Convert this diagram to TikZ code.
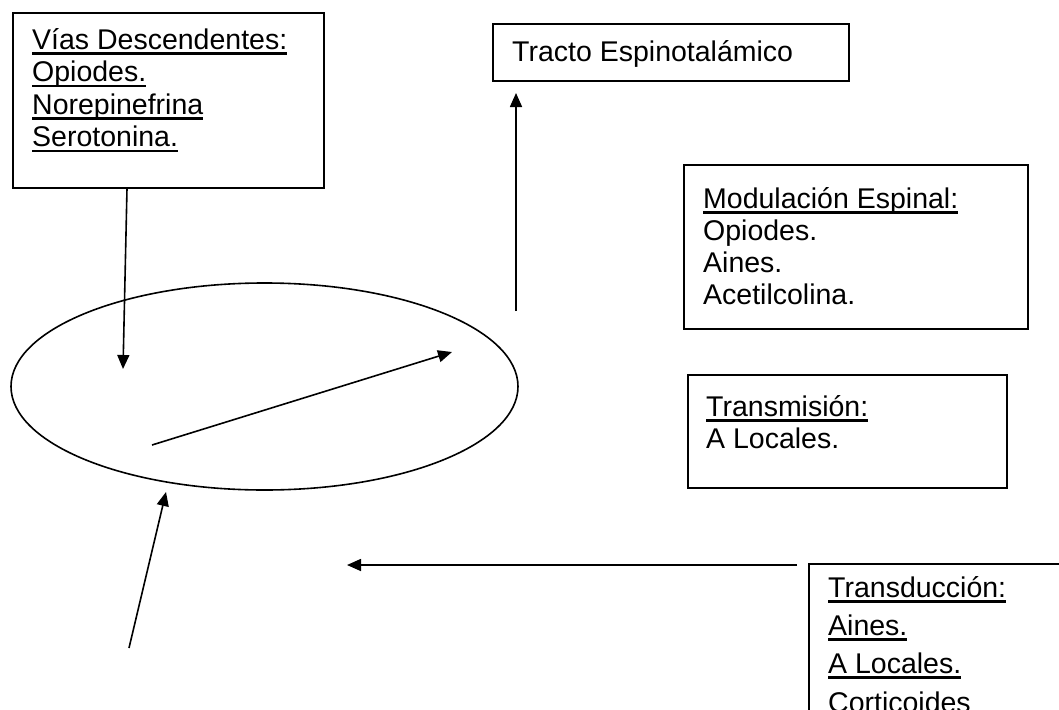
\documentclass[tikz,border=0pt]{standalone}
\usepackage{fontspec}
\setmainfont{Liberation Sans}
\usetikzlibrary{arrows.meta,shapes.geometric}
\newcommand{\myul}[1]{\setbox0\hbox{#1}\rlap{\rule[-5.5pt]{\wd0}{2.2pt}}\box0}
\begin{document}
\begin{tikzpicture}[x=1pt,y=-1pt,
  box/.style={draw,line width=1.6pt,rectangle,inner sep=0pt,anchor=north west},
  txt/.style={anchor=base west,inner sep=0pt,font=\fontsize{28.5}{32.5}\selectfont},
  arr/.style={line width=1.6pt,-{Triangle[length=14pt,width=12pt]}}]
\useasboundingbox (0,0) rectangle (1059,709);
\clip (0,0) rectangle (1059,709);
\fill[white] (0,0) rectangle (1059,709);

% boxes
\node[box,minimum width=311pt,minimum height=175pt] (vias) at (12,12) {};
\node[box,minimum width=356pt,minimum height=57pt] (tracto) at (492,23) {};
\node[box,minimum width=344pt,minimum height=164pt] (modul) at (683,164) {};
\node[box,minimum width=319pt,minimum height=113pt] (transm) at (687,374) {};
\node[box,minimum width=320pt,minimum height=220pt] (transd) at (808,563) {};
\node[draw,ellipse,line width=1.6pt,minimum width=507pt,minimum height=207pt,inner sep=0pt] (ell) at (264.5,386.5) {};

% texts
\node[txt] (v1) at (32,49) {\myul{Vías Descendentes:}};
\node[txt] (v2) at (32,81.5) {\myul{Opiodes.}};
\node[txt] (v3) at (32,114) {\myul{Norepinefrina}};
\node[txt] (v4) at (32,146.5) {\myul{Serotonina.}};

\node[txt] (t1) at (512,62) {Tracto Espinotalámico};

\node[txt] (m1) at (703,208) {\myul{Modulación Espinal:}};
\node[txt] (m2) at (703,240) {Opiodes.};
\node[txt] (m3) at (703,272) {Aines.};
\node[txt] (m4) at (703,304) {Acetilcolina.};

\node[txt] (s1) at (706,416) {\myul{Transmisión:}};
\node[txt] (s2) at (706,448) {A Locales.};

\node[txt] (d1) at (828,597) {\myul{Transducción:}};
\node[txt] (d2) at (828,635) {\myul{Aines.}};
\node[txt] (d3) at (828,673) {\myul{A Locales.}};
\node[txt] (d4) at (828,712) {Corticoides};

% connector end points
\coordinate (dtip) at (123,369);
\coordinate (vs) at (516,311);
\coordinate (utip) at (516,93);
\coordinate (gs) at (152,445);
\coordinate (gtip) at (452,352);
\coordinate (bs) at (129,648);
\coordinate (btip) at (166,492);
\coordinate (htip) at (347,565);

% connectors
\draw[arr] ([xshift=115pt]vias.south west) -- (dtip);
\draw[arr] (vs) -- (utip);
\draw[arr] (gs) -- (gtip);
\draw[arr] (bs) -- (btip);
\draw[arr] ([xshift=-11pt,yshift=-2pt]transd.north west) -- (htip);
\end{tikzpicture}
\end{document}
